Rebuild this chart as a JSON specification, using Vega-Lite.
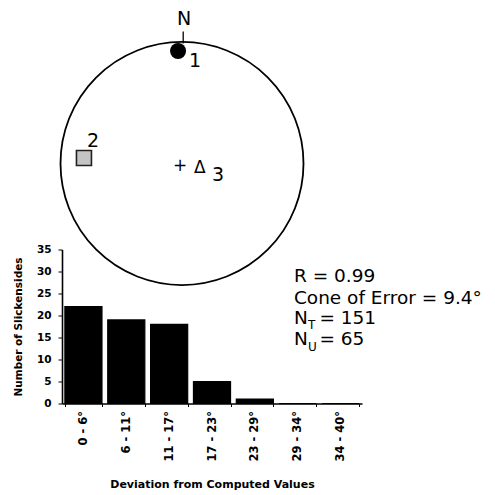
{
  "$schema": "https://vega.github.io/schema/vega-lite/v6.json",
  "background": "white",
  "padding": {"left": 13, "top": 9.5, "right": 5, "bottom": 5},
  "bounds": "flush",
  "spacing": 2,
  "config": {"view": {"stroke": null}, "font": "DejaVu Sans", "text": {"color": "black"}},
  "datasets": {
    "bars": [
      {"range": "0 - 6°", "count": 22},
      {"range": "6 - 11°", "count": 19},
      {"range": "11 - 17°", "count": 18},
      {"range": "17 - 23°", "count": 5},
      {"range": "23 - 29°", "count": 1},
      {"range": "29 - 34°", "count": 0},
      {"range": "34 - 40°", "count": 0}
    ],
    "primitive": [{"x": 0, "y": 0}],
    "northTick": [{"x": 0.01, "y": 1.0, "y2": 1.1}],
    "axis1": [{"x": -0.033, "y": 0.9375}],
    "axis2": [{"x": -0.817, "y": 0.046}],
    "bigLabels": [
      {"x": -0.042, "y": 1.154, "label": "N"},
      {"x": 0.058, "y": 0.804, "label": "1"},
      {"x": -0.792, "y": 0.1375, "label": "2"},
      {"x": 0.25, "y": -0.146, "label": "3"}
    ],
    "symbols": [
      {"x": -0.075, "y": -0.0625, "label": "+"},
      {"x": 0.1, "y": -0.079, "label": "Δ"}
    ],
    "stats": [
      {"x": 0.773, "y": 0.786, "label": "R = 0.99"},
      {"x": 0.773, "y": 0.649, "label": "Cone of Error = 9.4°"},
      {"x": 0.773, "y": 0.513, "label": "N"},
      {"x": 0.858, "y": 0.513, "label": "= 151"},
      {"x": 0.773, "y": 0.377, "label": "N"},
      {"x": 0.858, "y": 0.377, "label": "= 65"}
    ],
    "subs": [
      {"x": 0.82, "y": 0.481, "label": "T"},
      {"x": 0.82, "y": 0.344, "label": "U"}
    ]
  },
  "vconcat": [
    {
      "width": 300,
      "height": 204,
      "encoding": {
        "x": {"field": "x", "type": "quantitative", "scale": {"domain": [-1, 1.5], "nice": false, "zero": false}, "axis": null},
        "y": {"field": "y", "type": "quantitative", "scale": {"domain": [-0.7, 1.0], "nice": false, "zero": false}, "axis": null}
      },
      "layer": [
        {
          "data": {"name": "primitive"},
          "mark": {"type": "point", "shape": "circle", "filled": false, "size": 59049, "stroke": "black", "strokeWidth": 1.8, "opacity": 1}
        },
        {
          "data": {"name": "northTick"},
          "mark": {"type": "rule", "color": "black", "strokeWidth": 1.3},
          "encoding": {"y2": {"field": "y2"}}
        },
        {
          "data": {"name": "axis1"},
          "mark": {"type": "point", "shape": "circle", "filled": true, "size": 256, "color": "black", "opacity": 1}
        },
        {
          "data": {"name": "axis2"},
          "mark": {"type": "point", "shape": "square", "filled": true, "size": 225, "fill": "#c4c4c4", "stroke": "#222222", "strokeWidth": 1.6, "opacity": 1}
        },
        {
          "data": {"name": "bigLabels"},
          "mark": {"type": "text", "fontSize": 19, "align": "left", "baseline": "alphabetic", "font": "DejaVu Sans"},
          "encoding": {"text": {"field": "label"}}
        },
        {
          "data": {"name": "symbols"},
          "mark": {"type": "text", "fontSize": 17, "align": "left", "baseline": "alphabetic", "font": "DejaVu Sans"},
          "encoding": {"text": {"field": "label"}}
        }
      ]
    },
    {
      "width": 300,
      "height": 154,
      "layer": [
        {
          "data": {"name": "bars"},
          "mark": {"type": "bar", "color": "black", "stroke": "black", "strokeWidth": 1.2},
          "encoding": {
            "x": {
              "field": "range", "type": "nominal", "sort": null,
              "scale": {"paddingInner": 0.135, "paddingOuter": 0.0675},
              "title": "Deviation from Computed Values",
              "axis": {
                "labelAngle": -90, "labelFont": "DejaVu Sans", "labelFontWeight": "bold", "labelFontSize": 11.5,
                "labelColor": "black", "labelPadding": 4, "tickBand": "extent", "tickSize": 3, "tickColor": "black",
                "domainColor": "black", "domainWidth": 1.6, "titleFont": "DejaVu Sans", "titleFontSize": 11,
                "titleFontWeight": "bold", "titleColor": "black", "titlePadding": 17
              }
            },
            "y": {
              "field": "count", "type": "quantitative",
              "scale": {"domain": [0, 35], "nice": false},
              "title": "Number of Slickensides",
              "axis": {
                "values": [0, 5, 10, 15, 20, 25, 30, 35], "grid": false, "tickSize": 4, "tickColor": "black",
                "labelPadding": 7, "labelFont": "DejaVu Sans", "labelFontWeight": "bold", "labelFontSize": 10.5,
                "labelColor": "black", "domainColor": "black", "domainWidth": 1.6, "titleFont": "DejaVu Sans",
                "titleFontSize": 10.5, "titleFontWeight": "bold", "titleColor": "black", "titlePadding": 13
              }
            }
          }
        },
        {
          "data": {"name": "stats"},
          "mark": {"type": "text", "fontSize": 18.5, "align": "left", "baseline": "alphabetic", "font": "DejaVu Sans"},
          "encoding": {
            "x": {"field": "x", "type": "quantitative", "scale": {"domain": [0, 1], "nice": false, "zero": false}, "axis": null},
            "y": {"field": "y", "type": "quantitative", "scale": {"domain": [0, 1], "nice": false, "zero": false}, "axis": null},
            "text": {"field": "label"}
          }
        },
        {
          "data": {"name": "subs"},
          "mark": {"type": "text", "fontSize": 12, "align": "left", "baseline": "alphabetic", "font": "DejaVu Sans"},
          "encoding": {
            "x": {"field": "x", "type": "quantitative", "scale": {"domain": [0, 1], "nice": false, "zero": false}, "axis": null},
            "y": {"field": "y", "type": "quantitative", "scale": {"domain": [0, 1], "nice": false, "zero": false}, "axis": null},
            "text": {"field": "label"}
          }
        }
      ],
      "resolve": {"scale": {"x": "independent", "y": "independent"}}
    }
  ]
}
